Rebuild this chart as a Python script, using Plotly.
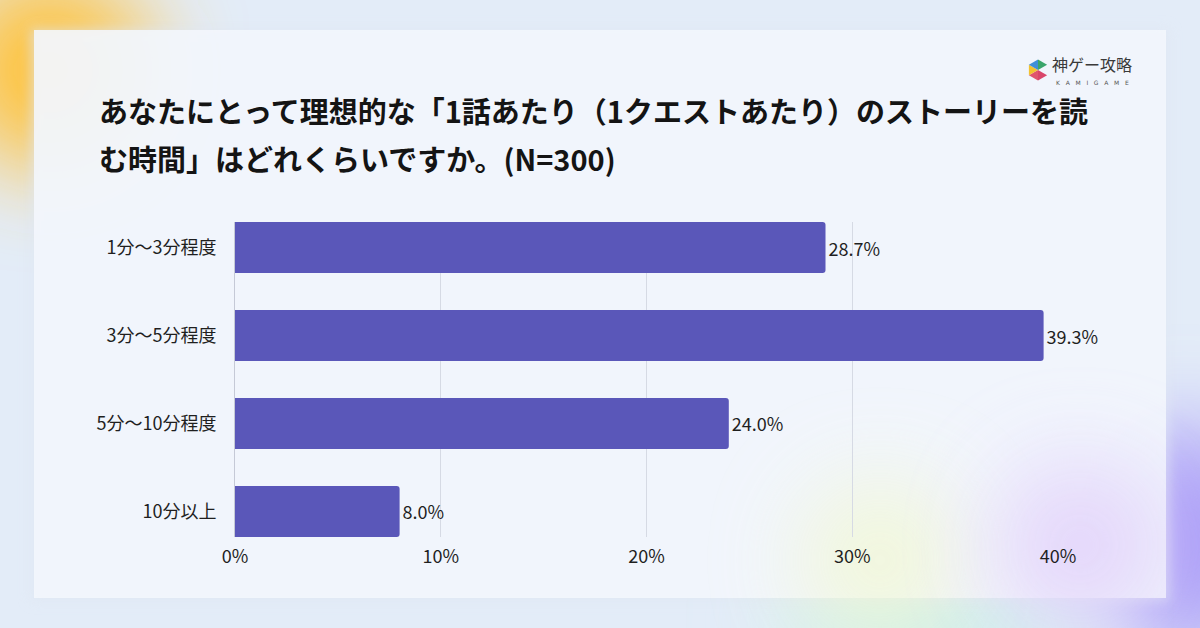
import base64
import math
import plotly.graph_objects as go

# ---- data ----
categories = ["1分〜3分程度", "3分〜5分程度", "5分〜10分程度", "10分以上"]
values = [28.7, 39.3, 24.0, 8.0]
x_ticks = [0, 10, 20, 30, 40]
x_tick_labels = ["0%", "10%", "20%", "30%", "40%"]
title_line1 = "あなたにとって理想的な「1話あたり（1クエストあたり）のストーリーを読"
title_line2 = "む時間」はどれくらいですか。(N=300)"

# ---- layout geometry ----
W, H = 1200, 628
ml, mr, mt, mb = 235, 142, 222, 91
pw, ph = W - ml - mr, H - mt - mb

def px(x):
    return (x - ml) / pw

def py(y):
    return 1 - (y - mt) / ph

FONT = "Noto Sans CJK JP"

# ---- decorative background (svg) ----
cx, cy, r = 1038, 70, 10.5
pts = [(cx + r * math.cos(math.radians(a)), cy + r * math.sin(math.radians(a))) for a in range(-90, 270, 60)]
tri_cols = ["#3aa56b", "#3aa56b", "#d9466a", "#e0556e", "#f2c230", "#3f8fd8"]
tris = ""
for i in range(6):
    if i == 1:
        continue
    a, b = pts[i], pts[(i + 1) % 6]
    tris += f'<polygon points="{cx},{cy} {a[0]:.1f},{a[1]:.1f} {b[0]:.1f},{b[1]:.1f}" fill="{tri_cols[i]}"/>'

svg = f'''<svg xmlns="http://www.w3.org/2000/svg" width="{W}" height="{H}" viewBox="0 0 {W} {H}">
<defs>
<filter id="b" x="-100%" y="-100%" width="300%" height="300%"><feGaussianBlur stdDeviation="45"/></filter>
<filter id="s" x="-50%" y="-50%" width="200%" height="200%"><feGaussianBlur stdDeviation="6"/></filter>
</defs>
<rect width="{W}" height="{H}" fill="#e3ecf8"/>
<circle cx="50" cy="70" r="100" fill="#ffc23a" filter="url(#b)"/>
<ellipse cx="1185" cy="540" rx="75" ry="115" fill="#a192f7" filter="url(#b)"/>
<ellipse cx="930" cy="625" rx="150" ry="40" fill="#c4f0e4" filter="url(#b)"/>
<rect x="30" y="28" width="1140" height="574" fill="#dfe6f2" opacity="0.6" filter="url(#s)"/>
<rect x="34" y="30" width="1132" height="568" fill="#f4f7fd" fill-opacity="0.87"/>
<circle cx="880" cy="560" r="80" fill="#f2f8d2" opacity="0.8" filter="url(#b)"/>
<circle cx="1080" cy="545" r="85" fill="#e3d3fb" opacity="0.9" filter="url(#b)"/>
{tris}
</svg>'''
svg_uri = "data:image/svg+xml;base64," + base64.b64encode(svg.encode("utf-8")).decode()

fig = go.Figure()
fig.add_trace(go.Bar(
    x=values,
    y=categories,
    orientation="h",
    marker=dict(color="#5a57b9", cornerradius=3, line=dict(width=0)),
    text=[f"{v:.1f}%" for v in values],
    textposition="outside",
    textfont=dict(family=FONT, size=18, color="#1f1f1f"),
    cliponaxis=False,
    hoverinfo="skip",
))

fig.update_layout(
    width=W, height=H,
    margin=dict(l=ml, r=mr, t=mt, b=mb, pad=0),
    paper_bgcolor="#e3ecf8",
    plot_bgcolor="rgba(0,0,0,0)",
    bargap=0.42,
    showlegend=False,
    font=dict(family=FONT, size=18, color="#1f1f1f"),
    xaxis=dict(
        range=[0, 40],
        tickvals=x_ticks,
        ticktext=x_tick_labels,
        showgrid=True,
        gridcolor="#d6dae4",
        gridwidth=1,
        zeroline=False,
        showline=False,
        ticks="",
        ticklabelstandoff=7,
        tickfont=dict(family=FONT, size=18, color="#1f1f1f"),
        fixedrange=True,
    ),
    yaxis=dict(
        type="category",
        categoryorder="array",
        categoryarray=categories,
        range=[3.29, -0.29],
        showline=True,
        linecolor="#c5c9d6",
        linewidth=1,
        showgrid=False,
        ticks="",
        ticklabelstandoff=14,
        tickfont=dict(family=FONT, size=18, color="#1f1f1f"),
        fixedrange=True,
    ),
    images=[dict(
        source=svg_uri,
        xref="paper", yref="paper",
        x=-ml / pw, y=1 + mt / ph,
        sizex=W / pw, sizey=H / ph,
        xanchor="left", yanchor="top",
        sizing="stretch", layer="below",
    )],
    annotations=[
        dict(text=f"<b>{title_line1}</b>", xref="paper", yref="paper",
             x=px(97), y=py(110), xanchor="left", yanchor="middle", showarrow=False,
             font=dict(family=FONT, size=29, color="#141414")),
        dict(text=f"<b>{title_line2}</b>", xref="paper", yref="paper",
             x=px(97), y=py(158), xanchor="left", yanchor="middle", showarrow=False,
             font=dict(family=FONT, size=29, color="#141414")),
        dict(text="神ゲー攻略", xref="paper", yref="paper",
             x=px(1051), y=py(77), xanchor="left", yanchor="bottom", showarrow=False,
             borderpad=0, font=dict(family=FONT, size=16, color="#3a3a3a")),
        dict(text="K   A   M   I   G   A   M   E", xref="paper", yref="paper",
             x=px(1055), y=py(77.5), xanchor="left", yanchor="top", showarrow=False,
             borderpad=0, font=dict(family="DejaVu Sans", size=6, color="#555555")),
    ],
)

fig.write_html("out.html")
